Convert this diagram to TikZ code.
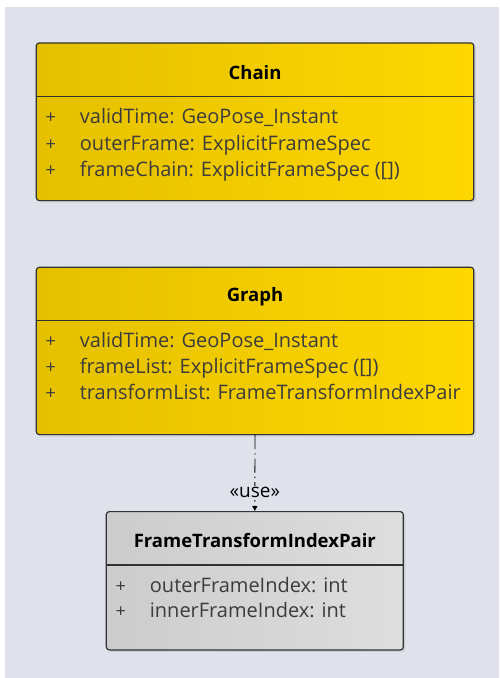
\documentclass[tikz,border=0pt]{standalone}
\usepackage{fontspec}
\setmainfont{Open Sans}
\usetikzlibrary{calc,arrows.meta,shadows}

\definecolor{bgcol}{RGB}{223,226,235}
\definecolor{boxline}{RGB}{50,50,50}
\definecolor{yelleft}{RGB}{228,192,0}
\definecolor{yelright}{RGB}{255,216,0}
\definecolor{grayleft}{RGB}{204,204,204}
\definecolor{grayright}{RGB}{222,222,222}
\definecolor{attrtext}{RGB}{60,60,60}

\tikzset{
  classbox/.style={draw=boxline, line width=1.2pt, rounded corners=3pt,
    inner sep=0pt, anchor=north west,
    drop shadow={shadow xshift=2pt, shadow yshift=-2pt, opacity=0.2}},
  yellowbox/.style={left color=yelleft, right color=yelright},
  graybox/.style={left color=grayleft, right color=grayright},
  classname/.style={font=\bfseries\fontsize{18.5}{20}\selectfont, text=black},
  attr/.style={font=\fontsize{20}{22}\selectfont, text=attrtext, anchor=base west, inner sep=0pt},
  attrsign/.style={font=\fontsize{18}{22}\selectfont, text=attrtext, anchor=base, inner sep=0pt},
  boxsep/.style={draw=boxline, line width=1.2pt},
  usedep/.style={draw=black, line width=0.9pt, dash pattern=on 14pt off 4pt on 1.5pt off 4pt,
    -{Triangle[length=5pt,width=5pt]}}
}

\begin{document}
\begin{tikzpicture}[x=1pt,y=-1pt]
  \useasboundingbox (0,0) rectangle (499,678);
  \fill[bgcol] (5,7) rectangle (499,678);

  % classes
  \node[classbox, yellowbox, minimum width=437.5pt, minimum height=157.7pt] (chain) at (35.7,42.3) {};
  \node[classbox, yellowbox, minimum width=437.5pt, minimum height=167.3pt] (graph) at (35.7,266.7) {};
  \node[classbox, graybox, minimum width=297pt, minimum height=138.3pt] (ftip) at (105.7,511) {};

  % titles and compartments
  \foreach \cls/\name in {chain/Chain, graph/Graph, ftip/FrameTransformIndexPair} {
    \node[classname] at ($(\cls.north)+(0,30)$) {\name};
    \draw[boxsep] ($(\cls.north west)+(0,54)$) -- ($(\cls.north east)+(0,54)$);
  }

  % attributes
  \foreach \txt [count=\i] in {{validTime: GeoPose\_Instant}, {outerFrame: ExplicitFrameSpec},
      {frameChain: ExplicitFrameSpec ([])}} {
    \node[attrsign] at ($(chain.north west)+(15,54.5+\i*26.7)$) {+};
    \node[attr] at ($(chain.north west)+(44,54.5+\i*26.7)$) {\txt};
  }
  \foreach \txt [count=\i] in {{validTime: GeoPose\_Instant}, {frameList: ExplicitFrameSpec ([])},
      {transformList: FrameTransformIndexPair}} {
    \node[attrsign] at ($(graph.north west)+(15,54.5+\i*26.2)$) {+};
    \node[attr] at ($(graph.north west)+(44,54.5+\i*26.2)$) {\txt};
  }
  \foreach \txt [count=\i] in {{outerFrameIndex: int}, {innerFrameIndex: int}} {
    \node[attrsign] at ($(ftip.north west)+(15,55.5+\i*25.5)$) {+};
    \node[attr] at ($(ftip.north west)+(44,55.5+\i*25.5)$) {\txt};
  }

  % dependency
  \draw[usedep] (graph.south) -- (ftip.north)
    node[pos=0.75, fill=bgcol, inner sep=1pt, text=black, font=\fontsize{19}{20}\selectfont] {«use»};
\end{tikzpicture}
\end{document}
